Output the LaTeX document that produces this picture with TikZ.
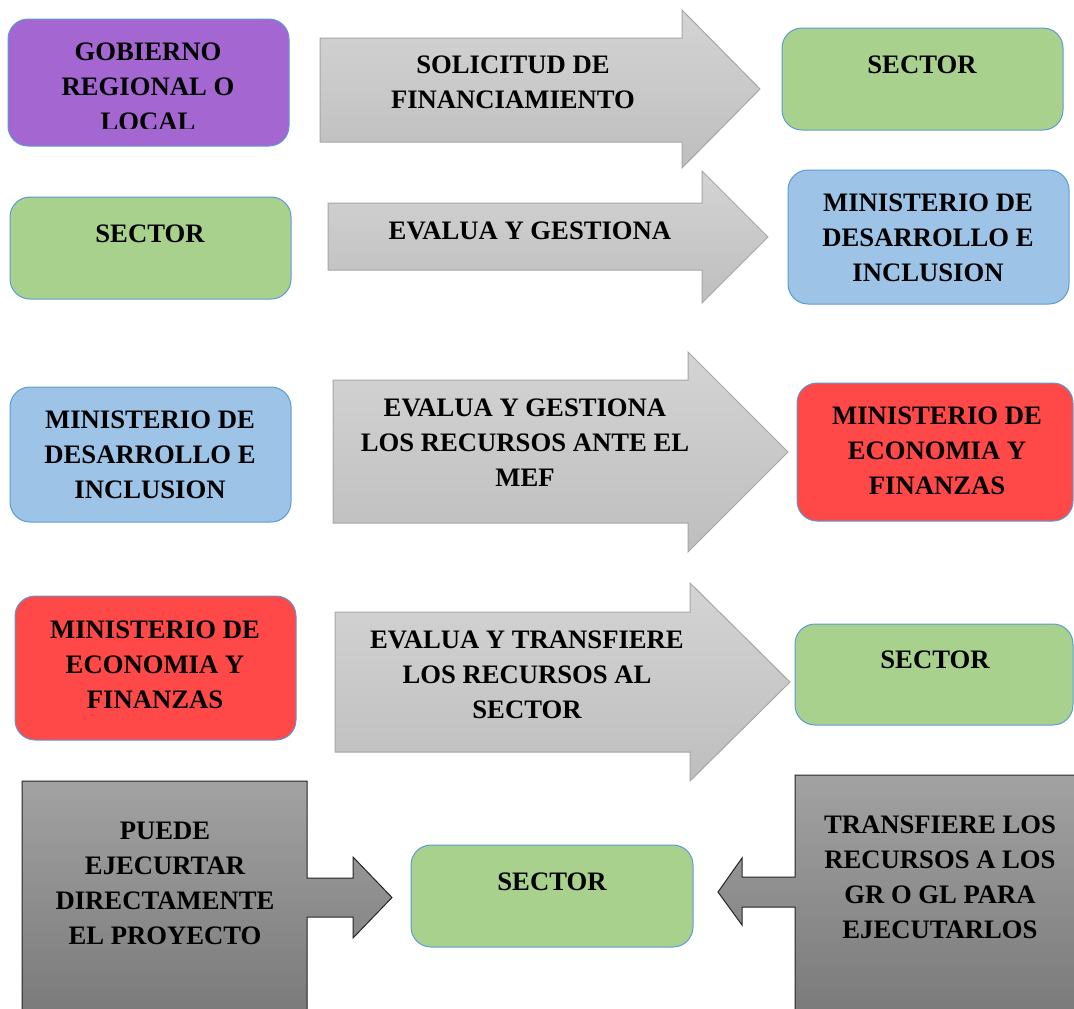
\documentclass[tikz,border=0pt]{standalone}
\usepackage{fontspec}
\setmainfont{Liberation Serif}
\definecolor{morado}{RGB}{164,102,209}
\definecolor{verde}{RGB}{169,209,142}
\definecolor{celeste}{RGB}{157,195,230}
\definecolor{rojo}{RGB}{255,72,72}
\definecolor{bordeazul}{RGB}{91,155,213}
\definecolor{grisA}{RGB}{212,212,212}
\definecolor{grisB}{RGB}{190,190,190}
\definecolor{grisborde}{RGB}{166,166,166}
\definecolor{oscA}{RGB}{162,162,162}
\definecolor{oscB}{RGB}{122,122,122}

\begin{document}
\begin{tikzpicture}[x=0.75pt,y=-0.75pt,line width=0.75pt]
      \tikzstyle{box}=[draw=bordeazul,rounded corners=15pt,inner sep=0pt,minimum width=210.75pt]
      \tikzstyle{txt}=[align=center,inner sep=0pt,font=\bfseries\fontsize{20}{26.25}\selectfont]
      \tikzstyle{flecha}=[draw=grisborde,top color=grisA,bottom color=grisB]
      \tikzstyle{oscuro}=[draw=black!85,top color=oscA,bottom color=oscB]

      \clip (0,0) rectangle (1074,1008);

      % cajas
      \node[box,fill=morado,minimum height=95.25pt]                     (gob)    at (148.5,82.5) {};
      \node[box,fill=verde,minimum height=76.5pt]                       (sec1)   at (922.5,79)   {};
      \node[box,fill=verde,minimum height=76.5pt]                       (sec2)   at (150.5,248)  {};
      \node[box,fill=celeste,minimum height=100.5pt]                    (midis1) at (928.5,237)  {};
      \node[box,fill=celeste,minimum height=101.25pt]                   (midis2) at (150.5,454.5){};
      \node[box,fill=rojo,minimum width=207pt,minimum height=103.5pt]   (mef1)   at (935,452)    {};
      \node[box,fill=rojo,minimum height=108pt]                         (mef2)   at (155.5,668)  {};
      \node[box,fill=verde,minimum width=208.5pt,minimum height=75.75pt](sec3)   at (934,674.5)  {};
      \node[box,fill=verde,minimum width=211.5pt,minimum height=76.5pt] (sec4)   at (552,896)    {};

      % flechas grandes
      \draw[flecha] (320,38) -- (682,38) -- (682,10) -- (760,89) -- (682,168) -- (682,142) -- (320,142) -- cycle;
      \draw[flecha] (328,203) -- (702,203) -- (702,171) -- (768,237) -- (702,303) -- (702,270) -- (328,270) -- cycle;
      \draw[flecha] (333,380) -- (688,380) -- (688,352) -- (788,452) -- (688,552) -- (688,523) -- (333,523) -- cycle;
      \draw[flecha] (335,612) -- (690,612) -- (690,583) -- (790,682) -- (690,781) -- (690,752) -- (335,752) -- cycle;

      % llamadas de abajo
      \draw[oscuro] (22,781) -- (307,781) -- (307,878) -- (353,878) -- (353,857) -- (392,897.5)
                    -- (353,938) -- (353,917) -- (307,917) -- (307,1015) -- (22,1015) -- cycle;
      \draw[oscuro] (795,775) -- (1080,775) -- (1080,1015) -- (795,1015) -- (795,907) -- (742,907)
                    -- (742,925) -- (718,892) -- (742,858) -- (742,877) -- (795,877) -- cycle;

      % textos
      \begin{scope}
        \clip (8,19) rectangle (289,128);
        \node[txt] (gobt) at (148,87) {GOBIERNO\\REGIONAL O\\LOCAL};
      \end{scope}
      \node[txt] (sec1t)   at (922,65)  {SECTOR};
      \node[txt] (sec2t)   at (150,234) {SECTOR};
      \node[txt] (midis1t) at (928,237.5) {MINISTERIO DE\\DESARROLLO E\\INCLUSION};
      \node[txt] (midis2t) at (150,455) {MINISTERIO DE\\DESARROLLO E\\INCLUSION};
      \node[txt] (mef1t)   at (937,451) {MINISTERIO DE\\ECONOMIA Y\\FINANZAS};
      \node[txt] (mef2t)   at (155,665) {MINISTERIO DE\\ECONOMIA Y\\FINANZAS};
      \node[txt] (sec3t)   at (935,660) {SECTOR};
      \node[txt] (sec4t)   at (552,882) {SECTOR};

      \node[txt] (solicitud) at (513,82)  {SOLICITUD DE\\FINANCIAMIENTO};
      \node[txt] (evalua1)   at (530,231) {EVALUA Y GESTIONA};
      \node[txt] (evalua2)   at (525,443) {EVALUA Y GESTIONA\\LOS RECURSOS ANTE EL\\MEF};
      \node[txt] (evalua3)   at (527,675) {EVALUA Y TRANSFIERE\\LOS RECURSOS AL\\SECTOR};

      \node[txt] (directo)    at (165,883)   {PUEDE\\EJECURTAR\\DIRECTAMENTE\\EL PROYECTO};
      \node[txt] (transfiere) at (940,877.5) {TRANSFIERE LOS\\RECURSOS A LOS\\GR O GL PARA\\EJECUTARLOS};
\end{tikzpicture}
\end{document}
